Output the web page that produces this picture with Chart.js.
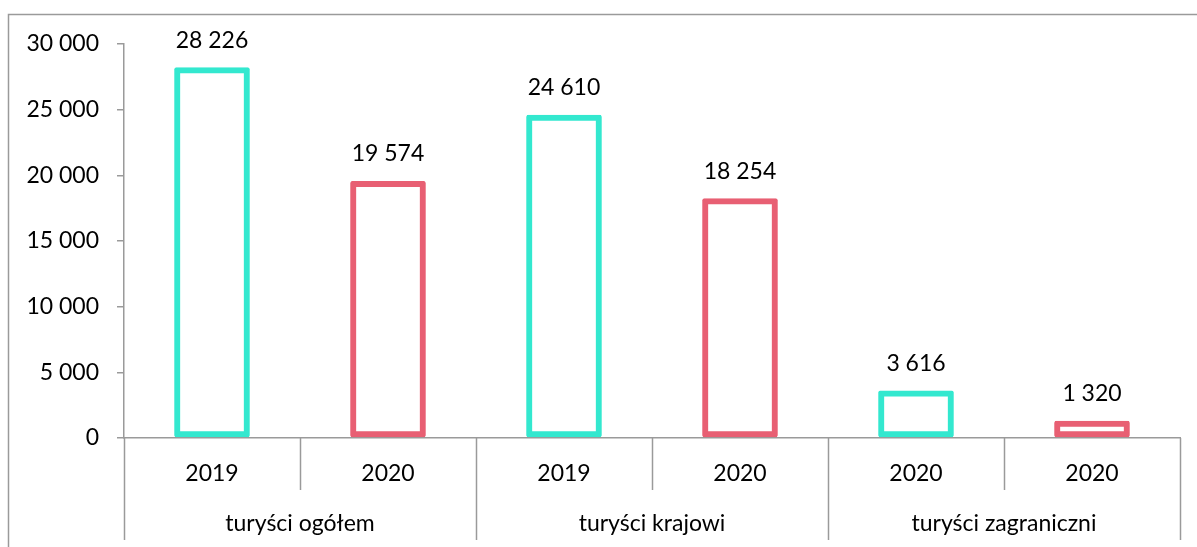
<!DOCTYPE html>
<html>
<head>
    <meta charset="utf-8">
    <title>Turyści 2019-2020</title>
    <script src="https://cdn.jsdelivr.net/npm/chart.js"></script>
    <style>
        html, body { margin: 0; padding: 0; background: #fff; }
        #wrap { width: 1197px; height: 547px; position: relative; }
    </style>
</head>
<body>
    <div id="wrap"><canvas id="myChart"></canvas></div>

    <script>
        var years = ["2019", "2020", "2019", "2020", "2020", "2020"];
        var groups = ["turyści ogółem", "turyści krajowi", "turyści zagraniczni"];
        var values = [28226, 19574, 24610, 18254, 3616, 1320];
        var barColors = ["#33E8CF", "#E85F73", "#33E8CF", "#E85F73", "#33E8CF", "#E85F73"];

        var FONT = "Lato";
        var lineColor = "#9a9a9a";

        // liczby ze spacją jako separatorem tysięcy
        function fmt(v) {
            return String(v).replace(/\B(?=(\d{3})+(?!\d))/g, " ");
        }

        var decorPlugin = {
            id: "decor",
            beforeDraw: function (chart) {
                var c = chart.ctx;
                c.save();
                c.strokeStyle = lineColor;
                c.lineWidth = 1.5;
                c.beginPath();
                c.moveTo(8.5, chart.height);
                c.lineTo(8.5, 14.5);
                c.lineTo(chart.width, 14.5);
                c.stroke();
                c.restore();
            },
            afterDraw: function (chart) {
                var c = chart.ctx;
                var x = chart.scales.x;
                var step = (x.right - x.left) / years.length;
                c.save();
                c.strokeStyle = lineColor;
                c.lineWidth = 1.5;
                for (var i = 0; i <= years.length; i++) {
                    var px = Math.round(x.left + i * step) + 0.5;
                    c.beginPath();
                    c.moveTo(px, x.top);
                    c.lineTo(px, i % 2 === 0 ? 540 : 490);
                    c.stroke();
                }
                c.fillStyle = "#000";
                c.font = "23px " + FONT;
                c.textAlign = "center";
                c.textBaseline = "middle";
                groups.forEach(function (g, i) {
                    var cx = (x.getPixelForValue(i * 2) + x.getPixelForValue(i * 2 + 1)) / 2;
                    c.fillText(g, cx, 524);
                });
                c.restore();
            },
            afterDatasetsDraw: function (chart) {
                var c = chart.ctx;
                var meta = chart.getDatasetMeta(0);
                c.save();
                c.fillStyle = "#000";
                c.font = "23px " + FONT;
                c.textAlign = "center";
                c.textBaseline = "middle";
                meta.data.forEach(function (bar, i) {
                    c.fillText(fmt(values[i]), bar.x, bar.y - 27);
                });
                c.restore();
            }
        };

        var ctx = document.getElementById("myChart").getContext("2d");
        new Chart(ctx, {
            type: "bar",
            data: {
                labels: years,
                datasets: [{
                    data: values,
                    backgroundColor: "rgba(255,255,255,0)",
                    borderColor: barColors,
                    borderWidth: 6,
                    borderSkipped: false,
                    borderRadius: 2,
                    barPercentage: 0.43,
                    categoryPercentage: 1
                }]
            },
            options: {
                responsive: true,
                maintainAspectRatio: false,
                animation: false,
                layout: { padding: { top: 44, right: 17, left: 0, bottom: 0 } },
                plugins: {
                    legend: { display: false },
                    tooltip: { enabled: false }
                },
                scales: {
                    x: {
                        grid: { display: false, drawTicks: false },
                        border: { display: true, color: lineColor, width: 1.5 },
                        ticks: {
                            color: "#000",
                            font: { family: FONT, size: 23 },
                            padding: 22,
                            maxRotation: 0
                        },
                        afterFit: function (s) { s.height = 109; }
                    },
                    y: {
                        min: 0,
                        max: 30000,
                        grid: {
                            drawOnChartArea: false,
                            drawTicks: true,
                            tickLength: 7,
                            color: lineColor,
                            lineWidth: 1.5
                        },
                        border: { display: true, color: lineColor, width: 1.5 },
                        ticks: {
                            stepSize: 5000,
                            color: "#000",
                            font: { family: FONT, size: 23 },
                            padding: 18,
                            callback: function (v) { return fmt(v); }
                        },
                        afterFit: function (s) { s.width = 124; }
                    }
                }
            },
            plugins: [decorPlugin]
        });
    </script>
</body>
</html>
